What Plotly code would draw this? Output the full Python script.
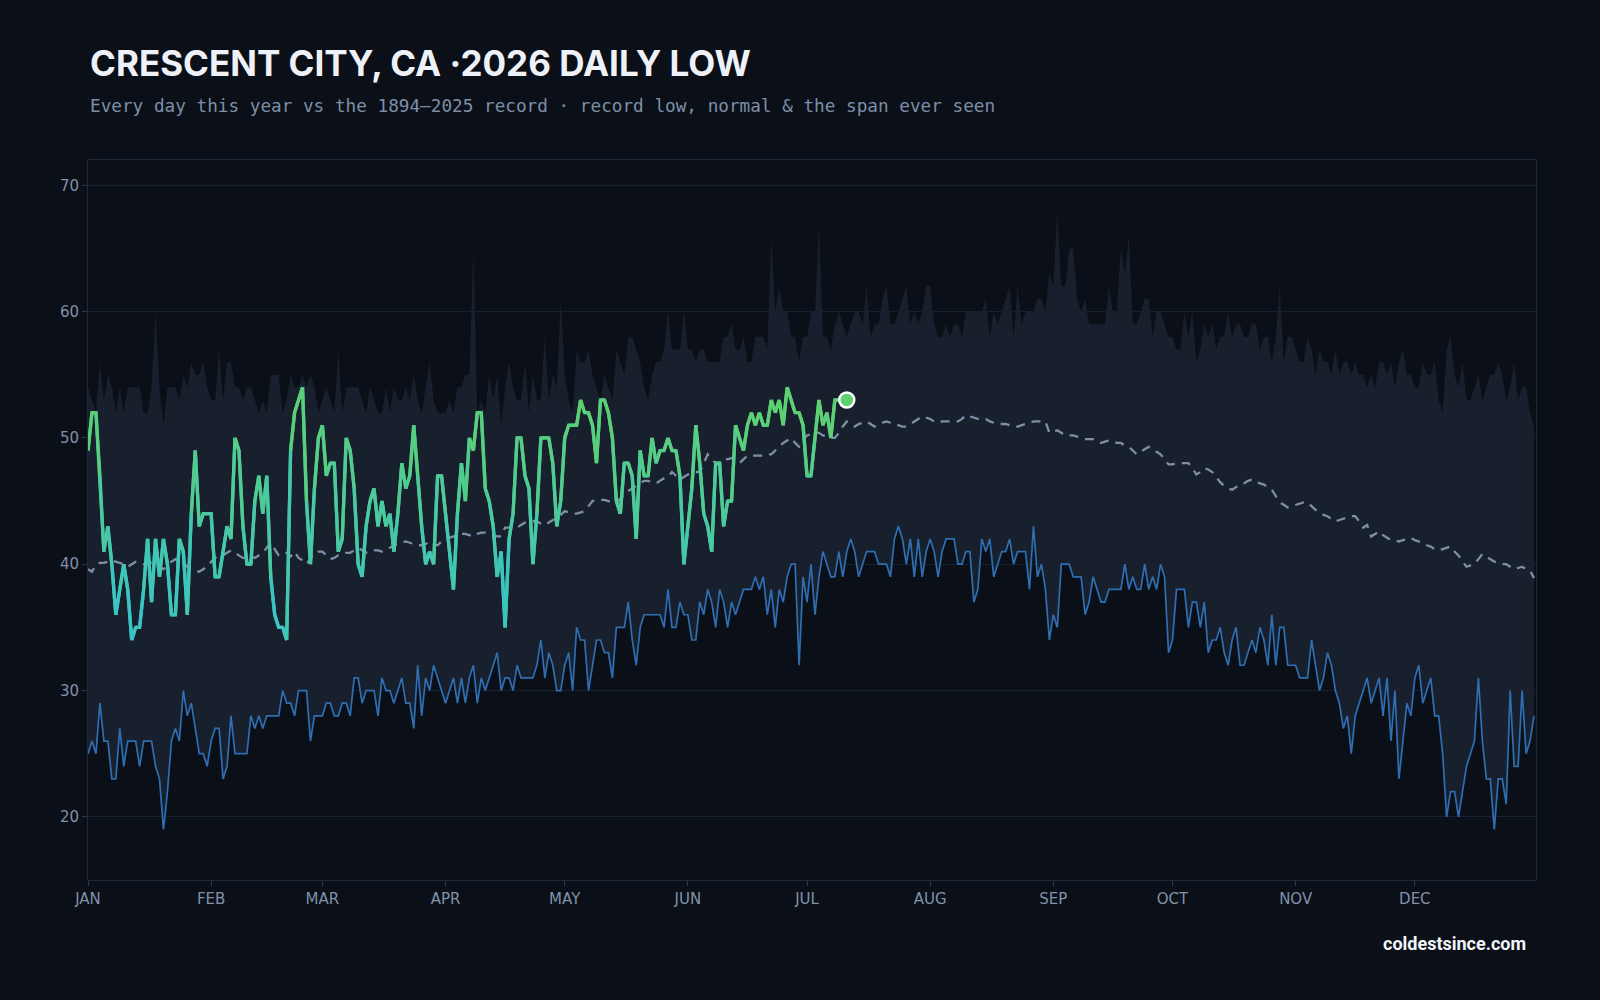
import pandas as pd
import plotly.graph_objects as go

# ---------------- data ----------------
dates = pd.date_range("2026-01-01", "2026-12-31", freq="D")

month_ticks = pd.date_range("2026-01-01", "2026-12-01", freq="MS")
month_labels = ["JAN", "FEB", "MAR", "APR", "MAY", "JUN",
                "JUL", "AUG", "SEP", "OCT", "NOV", "DEC"]
y_ticks = [20, 30, 40, 50, 60, 70]

record_high = [
    54,53,52,56,53,55,54,52,54,52, 54,54,54,54,52,52,54,60,54,51,
    54,54,54,53,55,54,56,55,55,56, 54,53,53,57,53,56,56,54,54,53,
    54,54,53,52,53,52,55,55,55,52, 53,55,54,54,55,54,55,54,52,53,
    54,53,52,57,52,54,54,54,54,53, 52,54,53,52,52,54,52,54,53,53,
    54,53,55,53,52,54,56,53,52,52, 52,53,52,54,54,55,55,65,52,53,
    52,55,53,55,51,54,56,54,53,53, 56,52,55,53,53,58,53,55,54,61,
    55,53,52,57,56,56,57,55,54,53, 55,54,53,57,56,55,58,58,57,56,
    54,53,55,56,56,57,60,57,57,57, 60,57,57,56,57,57,56,56,56,56,
    58,58,59,57,57,58,56,56,58,58, 58,57,66,60,62,60,60,58,58,56,
    58,58,60,60,67,58,58,57,59,60, 59,58,59,60,60,59,62,58,59,59,
    61,62,59,59,60,61,62,59,60,59, 60,62,62,59,58,58,59,58,59,59,
    58,60,60,60,60,60,61,58,60,59, 60,61,62,58,62,59,60,60,60,61,
    61,60,63,62,68,62,62,65,65,61, 60,61,59,59,59,59,59,62,60,60,
    65,63,66,59,59,60,61,61,58,60, 60,59,58,58,57,57,60,58,60,56,
    57,59,58,59,57,58,58,60,58,59, 59,58,58,59,59,57,58,58,56,58,
    62,56,58,58,57,56,56,58,57,55, 57,56,56,55,57,55,56,56,55,56,
    55,55,54,55,54,56,56,55,56,54, 56,57,55,55,54,54,56,55,55,56,
    53,52,57,58,55,54,56,53,53,54, 55,53,54,55,55,56,55,53,54,56,
    53,54,54,52,51,
]

record_low = [
    25,26,25,29,26,26,23,23,27,24, 26,26,26,24,26,26,26,24,23,19,
    22,26,27,26,30,28,29,27,25,25, 24,26,27,27,23,24,28,25,25,25,
    25,28,27,28,27,28,28,28,28,30, 29,29,28,30,30,30,26,28,28,28,
    29,29,28,28,29,29,28,31,31,29, 30,30,30,28,31,30,30,29,30,31,
    29,29,27,32,28,31,30,32,31,30, 29,30,31,29,31,29,31,32,29,31,
    30,31,32,33,30,31,31,30,32,31, 31,31,31,32,34,31,33,32,30,30,
    32,33,30,35,34,34,30,32,34,34, 33,33,31,35,35,35,37,34,32,35,
    36,36,36,36,36,35,38,35,35,37, 36,36,34,34,37,36,38,37,35,38,
    37,35,37,36,37,38,38,38,39,38, 39,36,38,35,38,37,39,40,40,32,
    39,37,40,36,39,41,40,39,39,41, 39,41,42,41,39,40,41,41,41,40,
    40,40,39,42,43,42,40,42,39,42, 39,41,42,41,39,41,42,42,42,40,
    40,41,41,37,38,42,41,42,39,40, 41,41,42,40,41,41,41,38,43,39,
    40,38,34,36,35,40,40,40,39,39, 39,36,37,39,38,37,37,38,38,38,
    38,40,38,39,38,38,40,38,39,38, 40,39,33,34,38,38,38,35,37,37,
    35,37,33,34,34,35,33,32,34,35, 32,32,33,34,33,35,34,32,36,32,
    35,35,32,32,32,31,31,31,34,32, 30,31,33,32,30,29,27,28,25,28,
    29,30,31,29,30,31,28,31,26,30, 23,26,29,28,31,32,29,30,31,28,
    28,25,20,22,22,20,22,24,25,26, 31,26,23,23,19,23,23,21,30,24,
    24,30,25,26,28,
]

normal = [
    39.6,39.4,40.0,40.1,40.1,40.2,40.3,40.2,40.1,40.0,
    39.8,40.0,40.2,40.1,40.0,40.1,40.1,39.9,39.8,39.6,
    39.9,40.2,40.4,40.2,40.1,39.8,39.5,39.5,39.4,39.6,
    39.8,40.2,40.5,40.6,40.7,40.9,41.1,40.9,40.7,40.5,
    40.5,40.6,40.5,40.7,40.9,41.3,41.7,41.2,40.7,40.8,
    40.9,40.6,41.0,40.5,40.3,40.0,40.5,40.9,41.0,41.0,
    40.7,40.4,40.5,40.7,40.8,40.9,40.9,41.1,41.3,41.1,
    40.9,41.0,41.1,41.1,41.0,41.1,41.3,41.5,41.6,41.7,
    41.8,41.7,41.6,41.5,41.5,41.6,41.8,41.6,41.5,41.8,
    42.0,42.1,42.2,42.3,42.4,42.4,42.3,42.2,42.4,42.5,
    42.5,42.4,42.3,42.2,42.2,42.9,42.9,42.9,42.9,43.1,
    43.3,43.4,43.4,43.4,43.2,43.1,43.3,43.5,43.6,43.9,
    44.2,44.1,44.0,44.0,44.1,44.2,44.6,45.0,45.1,45.1,
    45.1,45.0,44.9,44.9,45.2,45.5,45.8,46.0,46.2,46.4,
    46.6,46.6,46.5,46.4,46.6,46.8,46.9,47.3,47.0,46.7,
    46.9,47.1,47.2,47.3,47.3,48.0,48.7,48.3,48.0,48.0,
    48.4,48.3,48.4,48.2,48.0,48.3,48.6,48.6,48.6,48.6,
    48.6,48.7,48.7,49.0,49.3,49.6,49.8,50.0,49.6,49.3,
    49.8,50.2,50.3,50.4,50.4,50.2,50.1,50.0,50.0,50.4,
    50.9,51.3,51.1,50.9,51.1,51.2,51.3,51.1,50.9,51.1,
    51.2,51.3,51.2,51.1,51.0,50.9,50.9,51.1,51.3,51.5,
    51.7,51.6,51.5,51.3,51.2,51.3,51.3,51.3,51.3,51.3,
    51.5,51.8,51.7,51.6,51.5,51.5,51.5,51.3,51.2,51.1,
    51.1,51.1,51.0,50.9,50.9,51.0,51.1,51.2,51.3,51.3,
    51.3,51.3,50.4,50.5,50.6,50.4,50.2,50.2,50.2,50.1,
    50.0,49.9,49.9,49.9,49.7,49.6,49.7,49.8,49.7,49.6,
    49.6,49.4,49.3,49.0,48.7,48.9,49.1,49.3,49.1,48.9,
    48.7,48.3,47.9,47.9,48.0,48.0,48.0,48.0,47.6,47.1,
    47.3,47.6,47.5,47.3,46.9,46.5,46.2,46.0,45.9,46.1,
    46.3,46.4,46.6,46.7,46.5,46.4,46.3,46.1,45.9,45.4,
    44.9,44.7,44.5,44.6,44.7,44.8,44.9,44.9,44.6,44.3,
    44.1,43.9,43.8,43.6,43.4,43.5,43.6,43.7,43.8,43.8,
    43.4,42.9,43.1,42.2,42.4,42.6,42.3,42.1,41.9,41.9,
    41.8,41.9,42.0,42.1,41.9,41.8,41.7,41.5,41.4,41.2,
    41.1,41.2,41.3,41.4,41.0,40.7,40.2,39.8,39.9,40.0,
    40.4,40.8,40.6,40.4,40.2,40.1,40.0,40.0,39.8,39.6,
    39.7,39.8,39.6,39.5,38.9,
]

low_2026 = [
    49,52,52,47,41,43,40,36,38,40, 38,34,35,35,38,42,37,42,39,42,
    40,36,36,42,41,36,44,49,43,44, 44,44,39,39,41,43,42,50,49,43,
    40,40,45,47,44,47,39,36,35,35, 34,49,52,53,54,45,40,46,50,51,
    47,48,48,41,42,50,49,46,40,39, 43,45,46,43,45,43,44,41,44,48,
    46,47,51,47,43,40,41,40,47,47, 44,41,38,44,48,45,50,49,52,52,
    46,45,43,39,41,35,42,44,50,50, 47,46,40,44,50,50,50,48,43,45,
    50,51,51,51,53,52,52,51,48,53, 53,52,50,45,44,48,48,47,42,49,
    47,47,50,48,49,49,50,49,49,47, 40,43,46,51,48,44,43,41,48,48,
    43,45,45,51,50,49,51,52,51,52, 51,51,53,52,53,51,54,53,52,52,
    51,47,47,50,53,51,52,50,53,53, 53,53,
]

# ---------------- style ----------------
BG = "#0b0f17"
BAND = "#17202c"
GRID = "#172130"
FRAME = "#1d2a3b"
TICK_TXT = "#8092aa"
LOW_BLUE = "#2f6eb2"
NORMAL_C = "#7d8fa7"
TEAL = (56, 196, 200)
GREEN = (94, 208, 112)


def grad_color(v, lo=37.0, hi=52.0):
    t = min(1.0, max(0.0, (v - lo) / (hi - lo)))
    r = round(TEAL[0] + (GREEN[0] - TEAL[0]) * t)
    g = round(TEAL[1] + (GREEN[1] - TEAL[1]) * t)
    b = round(TEAL[2] + (GREEN[2] - TEAL[2]) * t)
    return f"rgb({r},{g},{b})"


fig = go.Figure()

# span ever seen (band between record low and record high of lows)
fig.add_trace(go.Scatter(x=dates, y=record_high, mode="lines",
                         line=dict(width=0, color=BAND), hoverinfo="skip",
                         showlegend=False))
fig.add_trace(go.Scatter(x=dates, y=record_low, mode="lines",
                         fill="tonexty", fillcolor=BAND,
                         line=dict(width=1.7, color=LOW_BLUE),
                         showlegend=False))

# normal
fig.add_trace(go.Scatter(x=dates, y=normal, mode="lines",
                         line=dict(width=2.3, color=NORMAL_C, dash="9px,7px"),
                         showlegend=False))

# 2026 line: base line then gradient-coloured segments
d26 = dates[:len(low_2026)]
fig.add_trace(go.Scatter(x=d26, y=low_2026, mode="lines",
                         line=dict(width=3.3, color=grad_color(45)),
                         showlegend=False))
for i in range(len(low_2026) - 1):
    mid = (low_2026[i] + low_2026[i + 1]) / 2
    fig.add_trace(go.Scatter(x=d26[i:i + 2], y=low_2026[i:i + 2], mode="lines",
                             line=dict(width=3.3, color=grad_color(mid)),
                             hoverinfo="skip", showlegend=False))

# latest point marker
fig.add_trace(go.Scatter(x=[d26[-1]], y=[low_2026[-1]], mode="markers",
                         marker=dict(size=15, color=grad_color(low_2026[-1]),
                                     line=dict(width=2.5, color="#ffffff")),
                         showlegend=False))

fig.update_layout(
    width=1600, height=1000,
    paper_bgcolor=BG, plot_bgcolor=BG,
    margin=dict(l=88, r=64, t=160, b=120),
    showlegend=False,
    xaxis=dict(
        range=[pd.Timestamp("2026-01-01"), pd.Timestamp("2026-12-31 12:00")],
        tickvals=month_ticks, ticktext=month_labels,
        showgrid=False, zeroline=False,
        showline=True, linecolor=FRAME, linewidth=1, mirror=True,
        ticks="outside", ticklen=5, tickcolor="#2a3a50",
        tickfont=dict(family="DejaVu Sans", size=15, color=TICK_TXT),
    ),
    yaxis=dict(
        range=[15, 72], tickvals=y_ticks,
        showgrid=True, gridcolor=GRID, gridwidth=1, zeroline=False,
        showline=True, linecolor=FRAME, linewidth=1, mirror=True,
        ticks="outside", ticklen=5, tickcolor="#2a3a50",
        tickfont=dict(family="DejaVu Sans", size=15, color=TICK_TXT),
    ),
)

# place annotations in pixel-equivalent paper coords
pw, ph = 1600 - 88 - 64, 1000 - 160 - 120


def px(x):
    return (x - 88) / pw


def py(y):
    return (880 - y) / ph


fig.layout.annotations = [
    dict(text="<b>CRESCENT CITY, CA ·2026 DAILY LOW</b>",
         x=px(88), y=py(63), xref="paper", yref="paper",
         xanchor="left", yanchor="middle", showarrow=False,
         font=dict(family="Inter", size=35, color="#eef2f8")),
    dict(text="Every day this year vs the 1894–2025 record · record low, normal &amp; the span ever seen",
         x=px(88), y=py(106), xref="paper", yref="paper",
         xanchor="left", yanchor="middle", showarrow=False,
         font=dict(family="DejaVu Sans Mono", size=17.7, color="#7d8fa7")),
    dict(text="<b>coldestsince.com</b>",
         x=px(1528), y=py(944), xref="paper", yref="paper",
         xanchor="right", yanchor="middle", showarrow=False,
         font=dict(family="Roboto", size=18, color="#f2f5fa")),
]

fig.write_html("out.html")
